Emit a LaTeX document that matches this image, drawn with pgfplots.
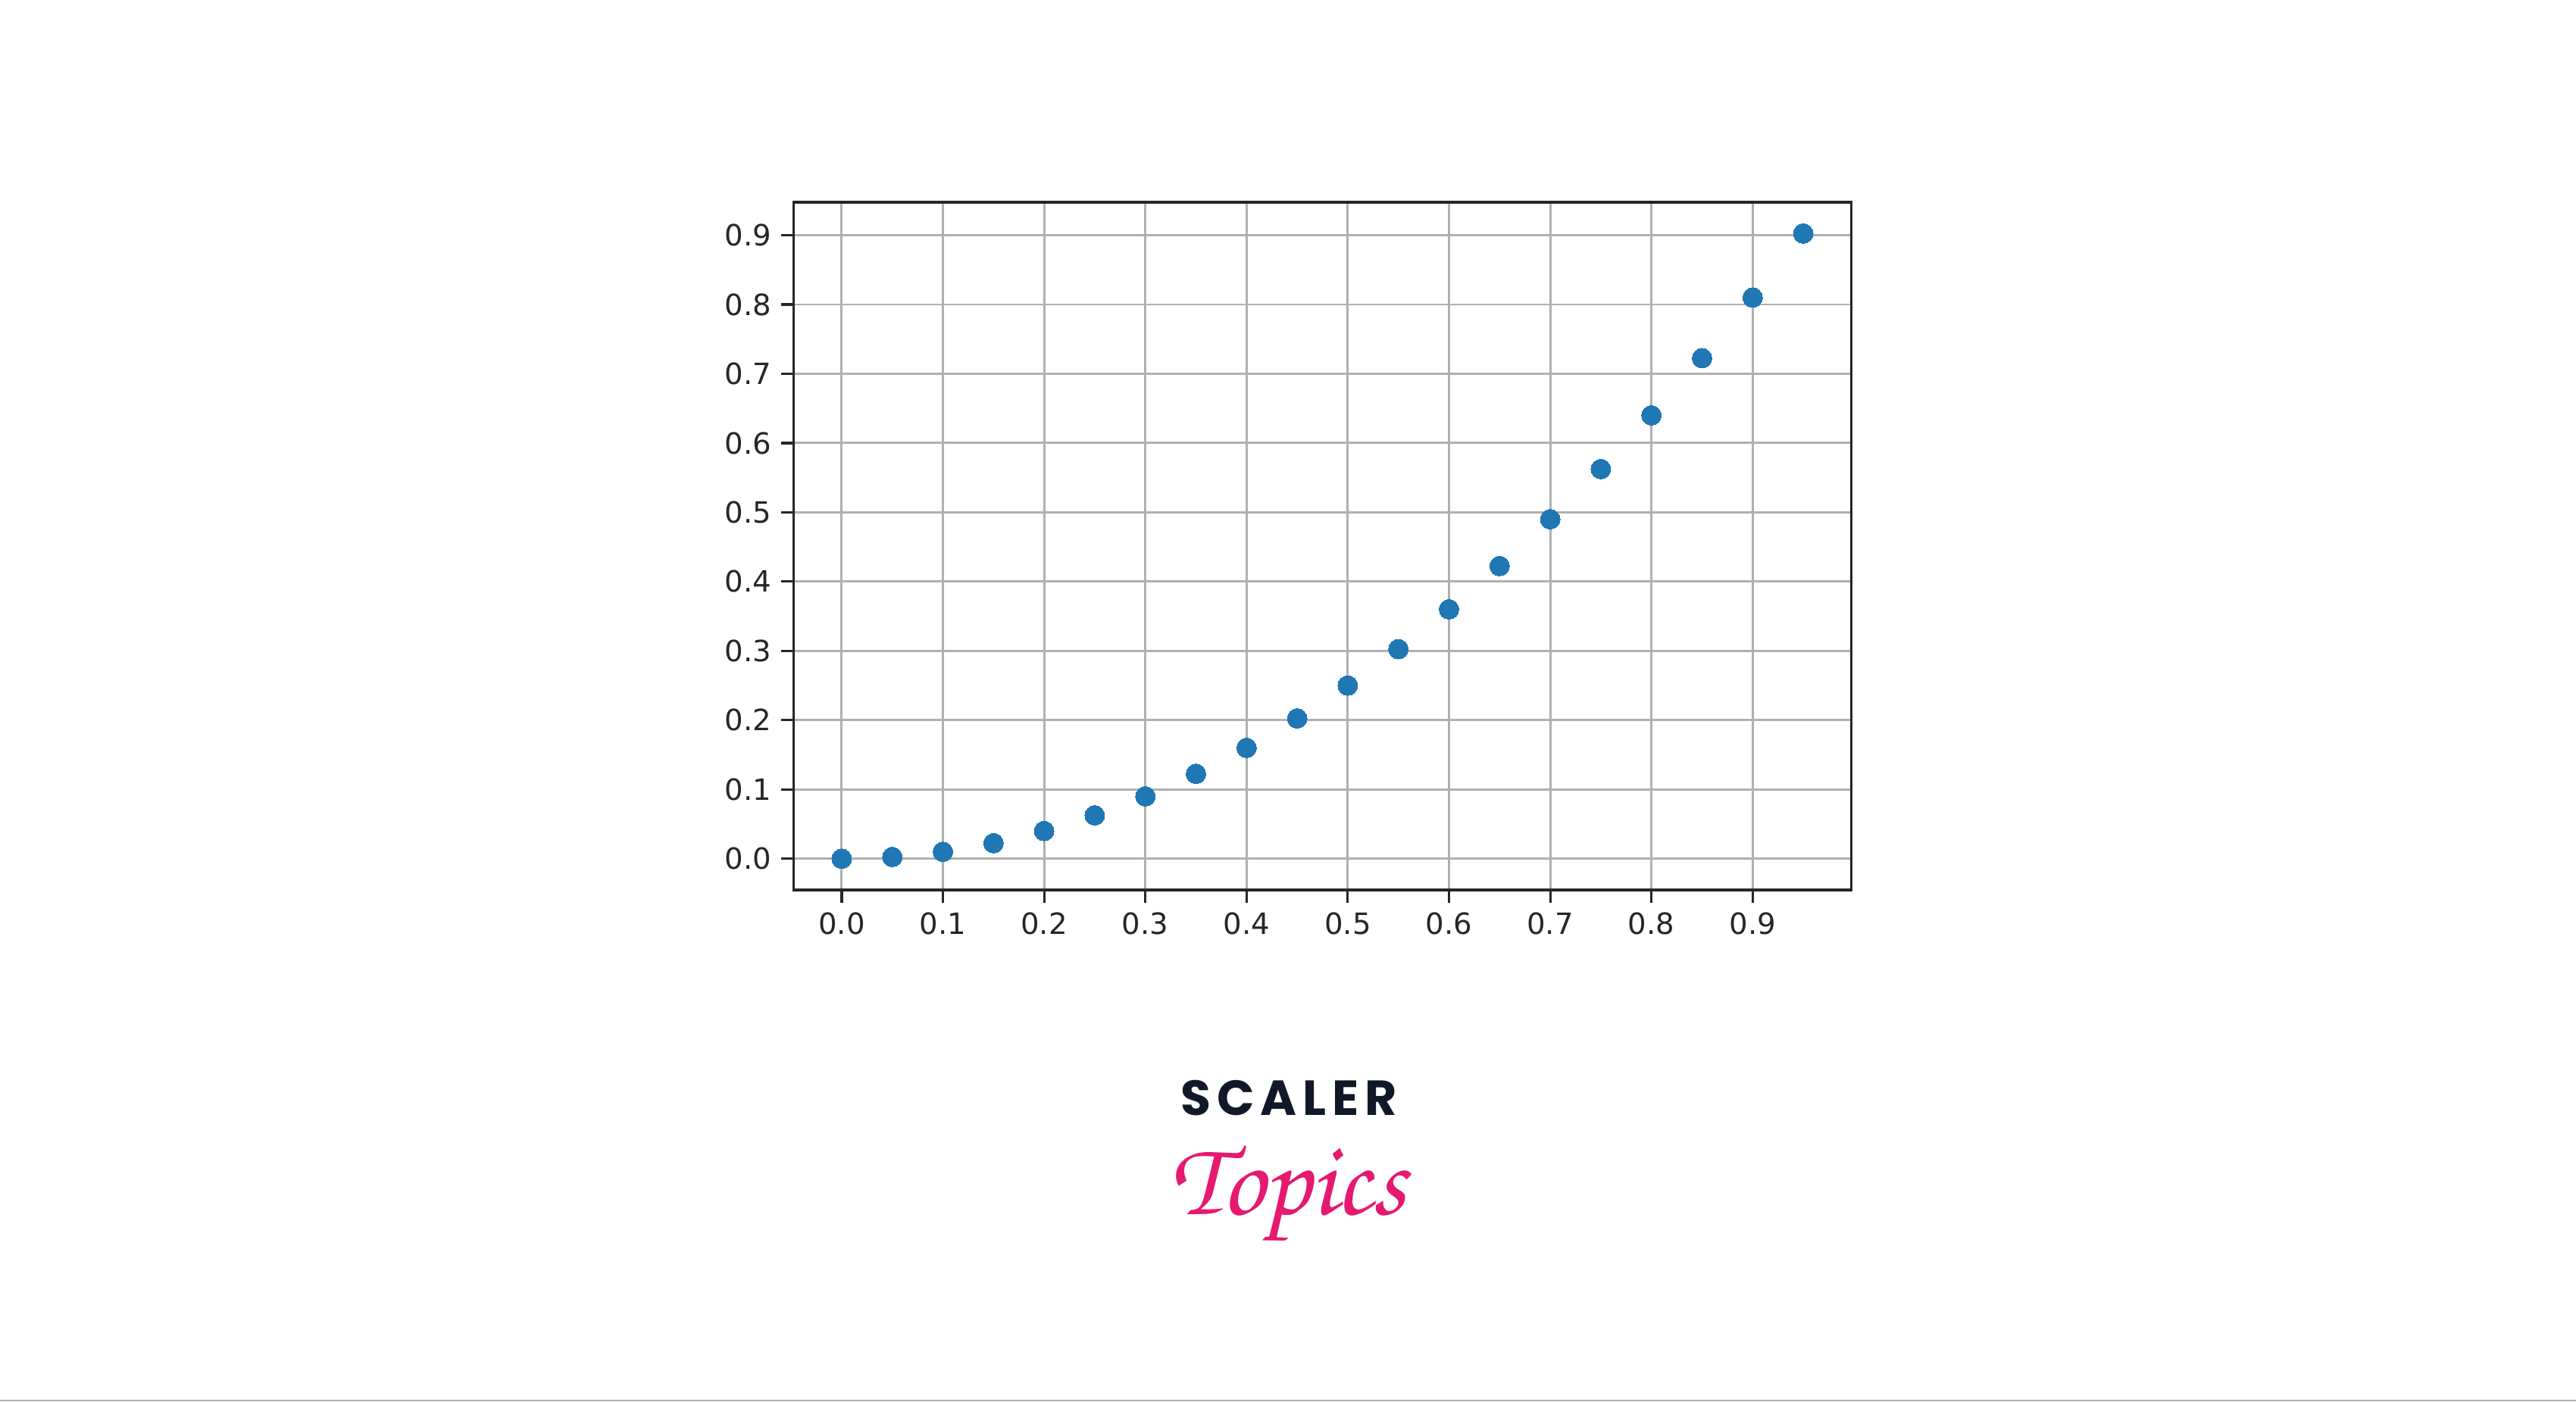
\documentclass[border=0pt]{standalone}
\usepackage{fontspec}
\setmainfont{DejaVu Sans}
\newfontfamily\scalerfont[LetterSpace=12]{Poppins}
\newfontfamily\topicsfont{TeX Gyre Chorus}
\usepackage{pgfplots}
\pgfplotsset{compat=1.18}

\definecolor{mplblue}{HTML}{1F77B4}
\definecolor{gridgray}{HTML}{B0B0B0}
\definecolor{spine}{HTML}{262626}
\definecolor{navy}{HTML}{111827}
\definecolor{scalerpink}{HTML}{E5196F}

\begin{document}
\begin{tikzpicture}
    % page frame, 3400 x 1850 px at 0.01cm per px
    \path[use as bounding box] (0,0) rectangle (34,18.5);
    \draw[gridgray, line width=0.6pt] (0,0.01) -- (34,0.01);

    \begin{axis}[
        at={(10.475cm,6.75cm)},
        anchor=south west,
        scale only axis,
        width=13.96cm,
        height=9.08cm,
        xmin=-0.0475, xmax=0.9975,
        ymin=-0.045125, ymax=0.947625,
        xtick={0,0.1,...,0.9},
        ytick={0,0.1,...,0.9},
        xticklabel style={/pgf/number format/.cd, fixed, fixed zerofill, precision=1},
        yticklabel style={/pgf/number format/.cd, fixed, fixed zerofill, precision=1},
        /pgf/number format/assume math mode=true,
        ticklabel style={font=\fontsize{11}{13}\selectfont, text=spine},
        tick pos=left,
        tick align=outside,
        major tick length=0.17cm,
        every tick/.style={spine, line width=0.9pt},
        axis line style={spine, line width=1.1pt},
        grid=major,
        major grid style={gridgray, line width=0.85pt},
        clip=false,
        ]
        \addplot[only marks, mark=*, mark size=3.7pt,
                 mark options={fill=mplblue, draw=mplblue, line width=0pt}]
        coordinates {
            (0.00,0.0000) (0.05,0.0025) (0.10,0.0100) (0.15,0.0225)
            (0.20,0.0400) (0.25,0.0625) (0.30,0.0900) (0.35,0.1225)
            (0.40,0.1600) (0.45,0.2025) (0.50,0.2500) (0.55,0.3025)
            (0.60,0.3600) (0.65,0.4225) (0.70,0.4900) (0.75,0.5625)
            (0.80,0.6400) (0.85,0.7225) (0.90,0.8100) (0.95,0.9025)
        };
    \end{axis}

    % logo
    \node[text=navy, inner sep=0pt, font=\scalerfont\bfseries\fontsize{18.5}{20}\selectfont]
        at (17.01,4.0) {SCALER};
    \node[text=scalerpink, inner sep=0pt, font=\topicsfont\fontsize{40}{42}\selectfont]
        at (17.0,2.75) {Topics};
\end{tikzpicture}
\end{document}
